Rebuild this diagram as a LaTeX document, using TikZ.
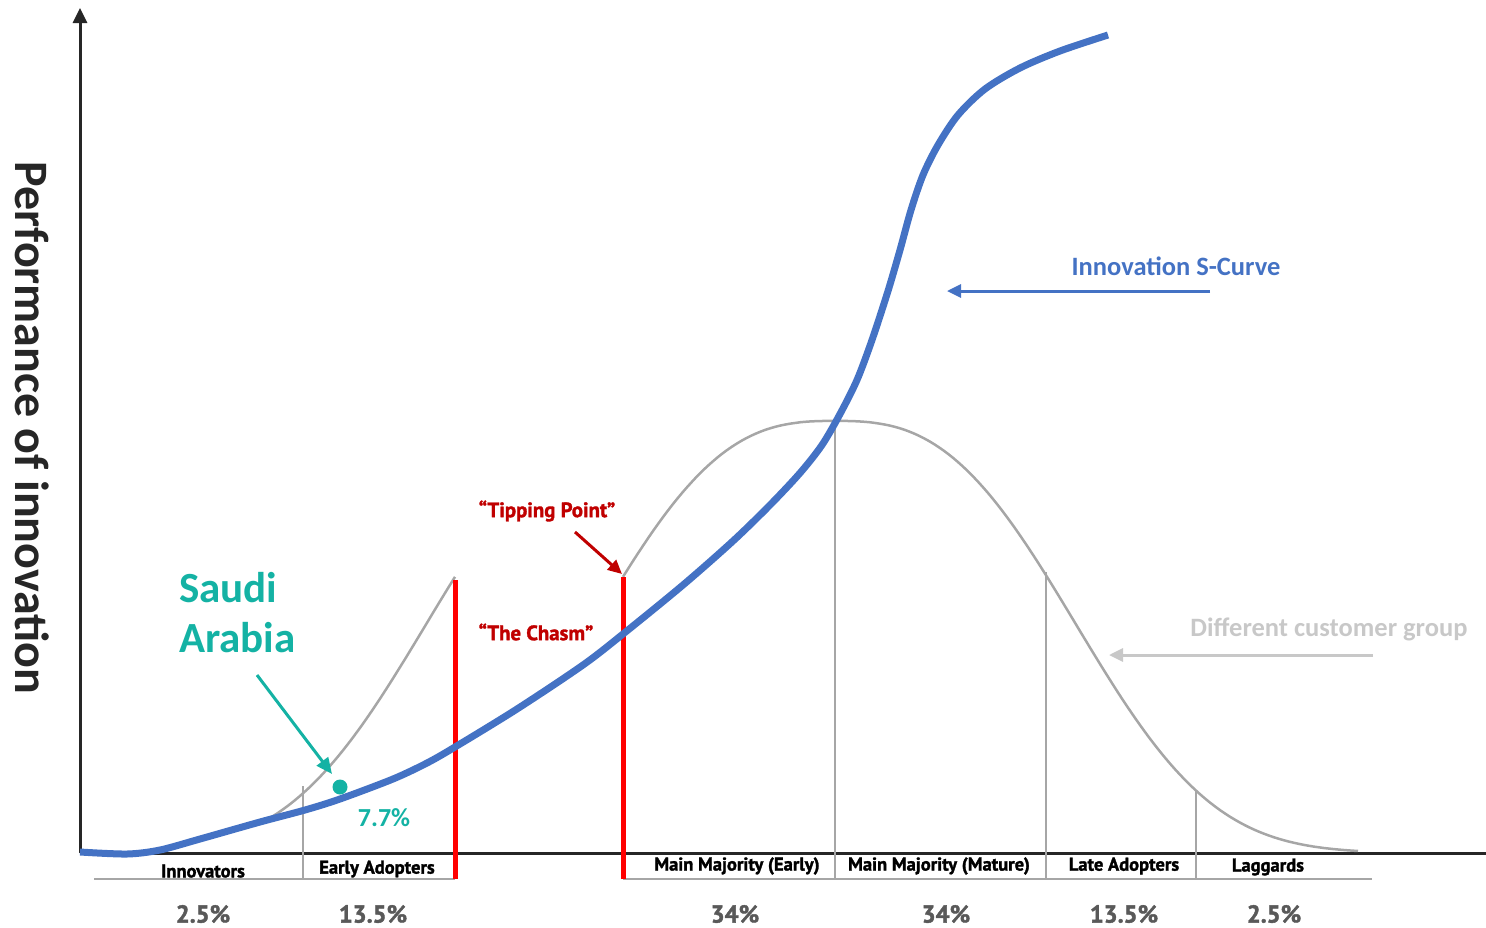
\documentclass[tikz,border=0pt]{standalone}
\usepackage{fontspec}
\setmainfont{Carlito}
\newfontfamily\dinfont{PT Sans}[BoldFeatures={FakeBold=1.6}]
\usetikzlibrary{arrows.meta}

\definecolor{scurve}{RGB}{68,114,196}
\definecolor{bellgray}{RGB}{166,166,166}
\definecolor{axisblack}{RGB}{38,38,38}
\definecolor{chasmred}{RGB}{255,0,0}
\definecolor{labelred}{RGB}{192,0,0}
\definecolor{saudigreen}{RGB}{20,178,164}
\definecolor{pctgray}{RGB}{89,89,89}
\definecolor{palegray}{RGB}{200,200,200}

\tikzset{
  axisline/.style={draw=axisblack, line width=3pt, -{Triangle[length=15pt,width=14pt]}},
  bell/.style={draw=bellgray, line width=2.5pt},
  divider/.style={draw=bellgray, line width=2.5pt},
  chasmline/.style={draw=chasmred, line width=5pt},
  scurveline/.style={draw=scurve, line width=7pt},
  grouplabel/.style={font=\dinfont\bfseries\fontsize{18.5}{18.5}\selectfont, text=black, inner sep=0pt},
  pctlabel/.style={font=\dinfont\bfseries\fontsize{24.5}{24.5}\selectfont, text=pctgray, inner sep=0pt},
  redlabel/.style={font=\dinfont\bfseries\fontsize{20.8}{20.8}\selectfont, text=labelred, inner sep=0pt},
  calloutlabel/.style={font=\bfseries\fontsize{26.5}{26.5}\selectfont, inner sep=0pt},
  bluearrow/.style={draw=scurve, line width=3pt, -{Triangle[length=14pt,width=13pt]}},
  grayarrow/.style={draw=palegray, line width=3pt, -{Triangle[length=14pt,width=13pt]}},
  redarrow/.style={draw=labelred, line width=3pt, -{Triangle[length=14pt,width=13pt]}},
  tealarrow/.style={draw=saudigreen, line width=3pt, -{Triangle[length=16pt,width=14pt]}},
}

\begin{document}
\begin{tikzpicture}[x=1pt, y=-1pt]
\useasboundingbox (0,0) rectangle (1486,927);

% axes
\coordinate (origin) at (80,853);
\coordinate (ytip) at (80,8);
\coordinate (xtip) at (1501,853);
\draw[axisline] (origin) -- (ytip);
\draw[axisline] (origin) -- (xtip);

\node[rotate=-90, inner sep=0pt, text=axisblack,
      font=\bfseries\fontsize{48}{48}\selectfont] (ylabel) at (32,428) {Performance of innovation};

% adopter bell curve, early part shifted left across the chasm
\draw[bell] plot[domain=262:455, samples=60]
  (\x, {853-432*exp(-1*pow((abs(\x-667)+0.01)/284,2.75))});
\draw[bell] plot[domain=623:1358, samples=150]
  (\x, {853-432*exp(-1*pow((abs(\x-835)+0.01)/284,2.75))});

% bottom baselines
\coordinate (baseA) at (94,879);
\coordinate (baseB) at (455,879);
\coordinate (baseC) at (623,879);
\coordinate (baseD) at (1372,879);
\draw[divider] (baseA) -- (baseB);
\draw[divider] (baseC) -- (baseD);

% group dividers
\coordinate (divAtop) at (303,786);
\coordinate (divAbot) at (303,879);
\coordinate (divBtop) at (835,421);
\coordinate (divBbot) at (835,879);
\coordinate (divCtop) at (1046,572);
\coordinate (divCbot) at (1046,879);
\coordinate (divDtop) at (1196,791);
\coordinate (divDbot) at (1196,879);
\draw[divider] (divAtop) -- (divAbot);
\draw[divider] (divBtop) -- (divBbot);
\draw[divider] (divCtop) -- (divCbot);
\draw[divider] (divDtop) -- (divDbot);

% chasm edges
\coordinate (chasmLtop) at (455,580);
\coordinate (chasmLbot) at (455,879);
\coordinate (chasmRtop) at (623,577);
\coordinate (chasmRbot) at (623,879);
\draw[chasmline] (chasmLtop) -- (chasmLbot);
\draw[chasmline] (chasmRtop) -- (chasmRbot);

% innovation S-curve
\draw[scurveline] plot[smooth, tension=0.5] coordinates {
  (80,852) (127,854) (160,850) (200,839) (260,822) (305,810) (340,799)
  (393,779) (427,763) (455,747) (517,709) (583,665) (623,634) (683,585)
  (733,541) (770,505) (800,473) (822,445) (840,414) (857,380) (872,340)
  (888,291) (900,250) (911,210) (923,175) (938,145) (958,115) (985,89)
  (1020,68) (1060,51) (1108,35)};

% Saudi Arabia marker
\node[circle, fill=saudigreen, minimum size=15pt, inner sep=0pt] (saudidot) at (340,787) {};
\node[anchor=west, align=left, text=saudigreen, inner sep=0pt,
      font=\bfseries\fontsize{43}{50}\selectfont] (saudi) at (179,613) {Saudi\\Arabia};
\coordinate (saudiarrowfrom) at (257,675);
\coordinate (saudiarrowto) at (332,774);
\draw[tealarrow] (saudiarrowfrom) -- (saudiarrowto);
\node[text=saudigreen, inner sep=0pt, font=\bfseries\fontsize{26}{26}\selectfont] (saudipct) at (384,818) {7.7\%};

% chasm labels
\node[redlabel] (tipping) at (547,511) {“Tipping Point”};
\node[redlabel] (chasm) at (536,632) {“The Chasm”};
\coordinate (tipfrom) at (575,532);
\coordinate (tipto) at (622,574);
\draw[redarrow] (tipfrom) -- (tipto);

% callouts
\node[calloutlabel, text=scurve] (scurvelabel) at (1176,266) {Innovation S-Curve};
\coordinate (scurvefrom) at (1210,291);
\coordinate (scurveto) at (947,291);
\draw[bluearrow] (scurvefrom) -- (scurveto);

\node[calloutlabel, text=palegray] (grouplabel) at (1329,629) {Different customer group};
\coordinate (groupfrom) at (1373,655);
\coordinate (groupto) at (1109,655);
\draw[grayarrow] (groupfrom) -- (groupto);

% adopter groups
\node[grouplabel] (innovators) at (203,871) {Innovators};
\node[grouplabel] (early) at (377,869) {Early Adopters};
\node[grouplabel] (mmearly) at (737,866) {Main Majority (Early)};
\node[grouplabel] (mmmature) at (939,866) {Main Majority (Mature)};
\node[grouplabel] (late) at (1124,866) {Late Adopters};
\node[grouplabel] (laggards) at (1268,867) {Laggards};

% shares
\node[pctlabel] (pctA) at (203,914) {2.5\%};
\node[pctlabel] (pctB) at (373,914) {13.5\%};
\node[pctlabel] (pctC) at (735,914) {34\%};
\node[pctlabel] (pctD) at (946,914) {34\%};
\node[pctlabel] (pctE) at (1124,914) {13.5\%};
\node[pctlabel] (pctF) at (1274,914) {2.5\%};
\end{tikzpicture}
\end{document}
